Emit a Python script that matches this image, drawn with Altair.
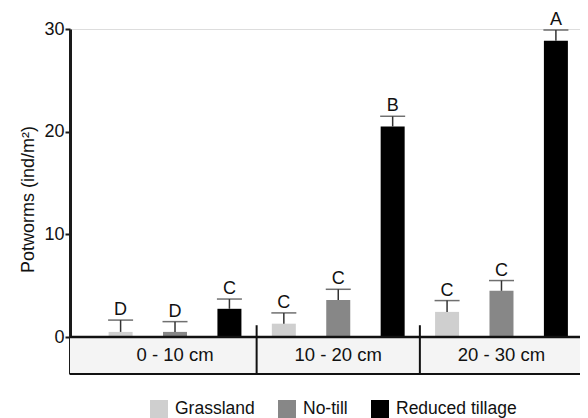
import altair as alt
import pandas as pd

groups = ["0 - 10 cm", "10 - 20 cm", "20 - 30 cm"]
treatments = ["Grassland", "No-till", "Reduced tillage"]
colors = ["#cfcfcf", "#878787", "#000000"]
means = [[0.5, 0.5, 2.75], [1.3, 3.6, 20.5], [2.45, 4.5, 28.85]]
uppers = [[1.65, 1.5, 3.7], [2.35, 4.65, 21.5], [3.55, 5.5, 29.9]]
letters = [["D", "D", "C"], ["C", "C", "B"], ["C", "C", "A"]]
y_ticks = [0, 10, 20, 30]

rows = []
for g, grp in enumerate(groups):
    for t, trt in enumerate(treatments):
        rows.append({"group": grp, "treatment": trt, "pos": 3 * g + t,
                     "mean": means[g][t], "upper": uppers[g][t], "letter": letters[g][t]})
df = pd.DataFrame(rows)

grp_df = pd.DataFrame({"group": groups, "pos": [3 * g + 1 for g in range(len(groups))]})
div_df = pd.DataFrame({"pos": [2.5, 5.5]})

Y0 = -3.6
xs = alt.Scale(domain=[-0.838, 8.351], nice=False, zero=False)
ys = alt.Scale(domain=[Y0, 30], nice=False, zero=False)
FONT = "Liberation Sans"

base = alt.Chart(df)

strip = alt.Chart(pd.DataFrame({"a": [Y0], "b": [0]})).mark_rect(color="#f4f4f4").encode(
    x=alt.value(0), x2=alt.value(510),
    y=alt.Y("a:Q", scale=ys), y2="b:Q")

bottom_line = alt.Chart(pd.DataFrame({"v": [Y0]})).mark_rule(color="#111", strokeWidth=2).encode(
    y=alt.Y("v:Q", scale=ys), x=alt.value(0), x2=alt.value(510))

zero_line = alt.Chart(pd.DataFrame({"v": [0]})).mark_rule(color="#111", strokeWidth=2.5).encode(
    y=alt.Y("v:Q", scale=ys), x=alt.value(0), x2=alt.value(510))

dividers = alt.Chart(div_df).transform_calculate(lo=str(Y0), hi="1.15").mark_rule(
    color="#111", strokeWidth=2).encode(
    x=alt.X("pos:Q", scale=xs), y=alt.Y("lo:Q", scale=ys), y2="hi:Q")

strip_text = alt.Chart(grp_df).transform_calculate(yy="-1.75").mark_text(
    fontSize=18.5, font=FONT, color="#111", baseline="middle").encode(
    x=alt.X("pos:Q", scale=xs), y=alt.Y("yy:Q", scale=ys), text="group:N")

bars = base.mark_bar(width=24).encode(
    x=alt.X("pos:Q", scale=xs, axis=None),
    y=alt.Y("mean:Q", scale=ys,
            axis=alt.Axis(values=y_ticks, title="Potworms (ind/m²)", grid=False,
                          domain=True, domainWidth=3, domainColor="#1a1a1a",
                          tickSize=5, tickWidth=2, tickColor="#1a1a1a",
                          labelFontSize=18, labelFont=FONT, labelColor="#111", labelPadding=1,
                          titleFontSize=18, titleFont=FONT, titleFontWeight="normal",
                          titleColor="#111", titlePadding=6, titleY=170)),
    color=alt.Color("treatment:N", scale=alt.Scale(domain=treatments, range=colors),
                    legend=alt.Legend(title=None, orient="none", legendX=80, legendY=371,
                                      direction="horizontal", symbolType="square",
                                      symbolSize=324, symbolStrokeWidth=0, symbolOpacity=1,
                                      labelFontSize=17.5, labelFont=FONT, labelColor="#111",
                                      labelOffset=7, columnPadding=23, padding=0)))

err = base.mark_rule(color="#333", strokeWidth=1.5).encode(
    x=alt.X("pos:Q", scale=xs), y=alt.Y("mean:Q", scale=ys), y2="upper:Q")

caps = base.mark_tick(color="#333", thickness=1.5, size=25, orient="horizontal").encode(
    x=alt.X("pos:Q", scale=xs), y=alt.Y("upper:Q", scale=ys))

labels = base.mark_text(fontSize=18, font=FONT, color="#111", baseline="bottom", dy=-1).encode(
    x=alt.X("pos:Q", scale=xs), y=alt.Y("upper:Q", scale=ys), text="letter:N")

chart = alt.layer(strip, bars, err, caps, labels, zero_line, bottom_line, dividers, strip_text).properties(
    width=510, height=345,
    autosize=alt.AutoSizeParams(type="none"),
    padding={"left": 62, "top": 21, "right": 0, "bottom": 44},
).configure_view(stroke=None).configure(background="white")

chart.save("out.html", embed_options={"renderer": "svg", "actions": False})
